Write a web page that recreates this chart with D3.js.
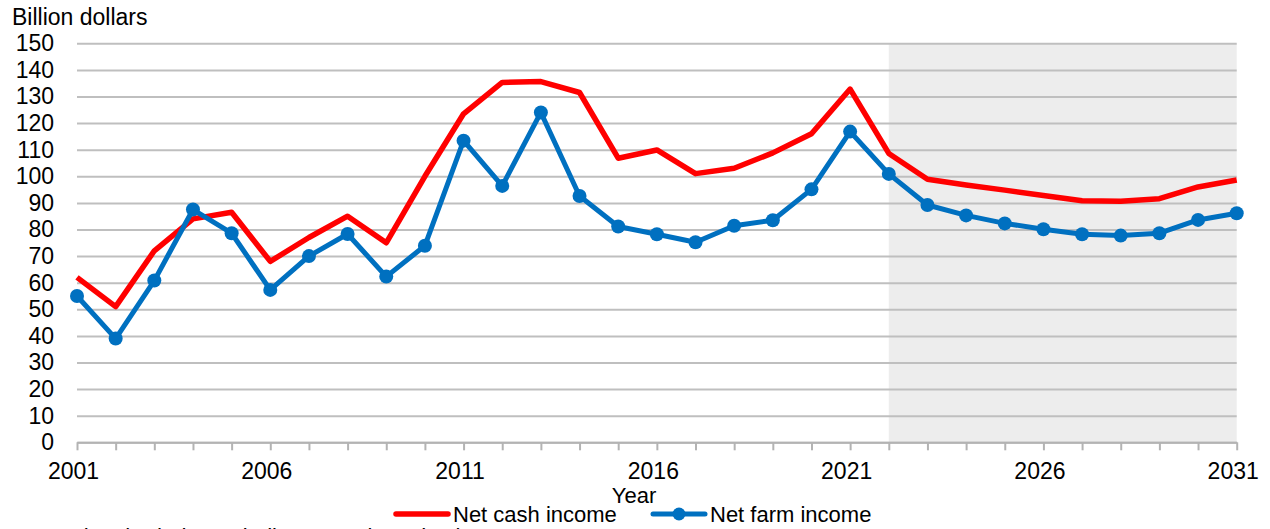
<!DOCTYPE html>
<html>
<head>
<meta charset="utf-8">
<script src="https://cdn.jsdelivr.net/npm/d3@7"></script>
<style>
    body { margin: 0; background: #fff; }
    svg text { font-family: "Liberation Sans", Arial, sans-serif; fill: #000; }
</style>
</head>
<body>
<svg id="chart" width="1270" height="529"></svg>
<script>
const years = d3.range(2001, 2032);
const netCash = [62, 51, 72, 84, 86.5, 68, 77, 85, 75, 100, 123.5, 135.3, 135.6, 131.5, 106.8, 109.9,
    101, 103, 108.8, 116, 132.8, 108.6, 98.9, 96.7, 94.8, 92.8, 90.8, 90.6, 91.6, 96, 98.6];
const netFarm = [55, 39, 60.8, 87.5, 78.6, 57.3, 70, 78.3, 62.3, 73.9, 113.4, 96.4, 124, 92.6, 81.1, 78.2,
    75.2, 81.4, 83.5, 95.1, 116.8, 100.9, 89.2, 85.3, 82.3, 80.1, 78.2, 77.7, 78.6, 83.6, 86.1];
const yTicks = d3.range(0, 151, 10);
const labelYears = [2001, 2006, 2011, 2016, 2021, 2026, 2031];
const forecastStart = 2022;
const seriesNames = ["Net cash income", "Net farm income"];

function createAxis(svg, attr_area) {
    const scaleX = d3.scaleLinear()
        .domain([years[0], years[years.length - 1]])
        .range([attr_area.left, attr_area.right]);

    const scaleY = d3.scaleLinear()
        .domain([0, 150])
        .range([attr_area.bottom, attr_area.top]);

    // shaded projection period
    svg.append("rect")
        .attr("x", scaleX(forecastStart))
        .attr("y", attr_area.top)
        .attr("width", scaleX(years[years.length - 1]) - scaleX(forecastStart))
        .attr("height", attr_area.bottom - attr_area.top)
        .attr("fill", "#ededed");

    const axisY = d3.axisLeft(scaleY)
        .tickValues(yTicks)
        .tickSize(-(attr_area.right - attr_area.left))
        .tickPadding(23);

    const gY = svg.append("g")
        .attr("transform", `translate(${attr_area.left}, 0)`)
        .call(axisY);
    gY.select(".domain").remove();
    gY.selectAll("line")
        .attr("stroke", "#bfbfbf")
        .attr("stroke-width", 2);
    gY.selectAll("text")
        .style("font-size", "23px");

    const axisX = d3.axisBottom(scaleX)
        .tickValues(years)
        .tickSize(8)
        .tickSizeOuter(0)
        .tickPadding(12)
        .tickFormat(d => labelYears.includes(d) ? String(d) : "");

    const gX = svg.append("g")
        .attr("transform", `translate(0, ${attr_area.bottom})`)
        .call(axisX);
    gX.select(".domain")
        .attr("stroke", "#b3b3b3")
        .attr("stroke-width", 2);
    gX.selectAll("line")
        .attr("stroke", "#b3b3b3")
        .attr("stroke-width", 2);
    gX.selectAll("text")
        .attr("dx", -4)
        .style("font-size", "23px");

    return [scaleX, scaleY];
}

function createLineChart(svg, scaleX, scaleY) {
    const line = d3.line()
        .x((d, i) => scaleX(years[i]))
        .y(d => scaleY(d));

    svg.append("path")
        .datum(netCash)
        .attr("fill", "none")
        .attr("stroke", "#ff0000")
        .attr("stroke-width", 5.5)
        .attr("stroke-linejoin", "round")
        .attr("d", line);

    svg.append("path")
        .datum(netFarm)
        .attr("fill", "none")
        .attr("stroke", "#0070c0")
        .attr("stroke-width", 5)
        .attr("stroke-linejoin", "round")
        .attr("d", line);

    svg.selectAll(".dot-farm")
        .data(netFarm)
        .enter()
        .append("circle")
        .attr("class", "dot-farm")
        .attr("r", 7)
        .attr("cx", (d, i) => scaleX(years[i]))
        .attr("cy", d => scaleY(d))
        .style("fill", "#0070c0");
}

function createLabels(svg) {
    svg.append("text")
        .attr("x", 12)
        .attr("y", 25)
        .style("font-size", "23px")
        .text("Billion dollars");

    svg.append("text")
        .attr("x", 634)
        .attr("y", 503)
        .attr("text-anchor", "middle")
        .style("font-size", "22px")
        .text("Year");

    const legend = svg.append("g");
    legend.append("line")
        .attr("x1", 396).attr("x2", 448)
        .attr("y1", 514).attr("y2", 514)
        .attr("stroke", "#ff0000")
        .attr("stroke-width", 5.5)
        .attr("stroke-linecap", "round");
    legend.append("text")
        .attr("x", 453)
        .attr("y", 522)
        .style("font-size", "22px")
        .text(seriesNames[0]);

    legend.append("line")
        .attr("x1", 653).attr("x2", 705)
        .attr("y1", 514).attr("y2", 514)
        .attr("stroke", "#0070c0")
        .attr("stroke-width", 5)
        .attr("stroke-linecap", "round");
    legend.append("circle")
        .attr("cx", 679).attr("cy", 514)
        .attr("r", 6.5)
        .style("fill", "#0070c0");
    legend.append("text")
        .attr("x", 710)
        .attr("y", 522)
        .style("font-size", "22px")
        .text(seriesNames[1]);

    // note line, cut off at the bottom edge as in the source
    svg.append("text")
        .attr("x", 12)
        .attr("y", 544)
        .style("font-size", "22px")
        .text("Note: The shaded area indicates projected values.");
}

function drawGraph() {
    const svg = d3.select("#chart");
    svg.selectAll("*").remove();

    const attr_area = {
        left: 77,
        right: 1236.7,
        top: 43.3,
        bottom: 442.3
    };

    const [scX, scY] = createAxis(svg, attr_area);
    createLineChart(svg, scX, scY);
    createLabels(svg);
}

drawGraph();
</script>
</body>
</html>
